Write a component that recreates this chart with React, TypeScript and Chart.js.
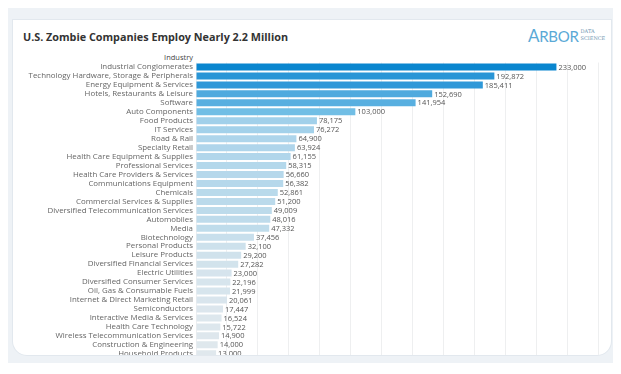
import React, { useEffect, useRef } from "react";
import { Chart, registerables } from "chart.js";

Chart.register(...registerables);

const industries: string[] = [
  "Industrial Conglomerates",
  "Technology Hardware, Storage & Peripherals",
  "Energy Equipment & Services",
  "Hotels, Restaurants & Leisure",
  "Software",
  "Auto Components",
  "Food Products",
  "IT Services",
  "Road & Rail",
  "Specialty Retail",
  "Health Care Equipment & Supplies",
  "Professional Services",
  "Health Care Providers & Services",
  "Communications Equipment",
  "Chemicals",
  "Commercial Services & Supplies",
  "Diversified Telecommunication Services",
  "Automobiles",
  "Media",
  "Biotechnology",
  "Personal Products",
  "Leisure Products",
  "Diversified Financial Services",
  "Electric Utilities",
  "Diversified Consumer Services",
  "Oil, Gas & Consumable Fuels",
  "Internet & Direct Marketing Retail",
  "Semiconductors",
  "Interactive Media & Services",
  "Health Care Technology",
  "Wireless Telecommunication Services",
  "Construction & Engineering",
  "Household Products",
];

const employees: number[] = [
  233000, 192872, 185411, 152690, 141954, 103000, 78175, 76272, 64900, 63924,
  61155, 58315, 56660, 56382, 52861, 51200, 49009, 48016, 47332, 37456, 32100,
  29200, 27282, 23000, 22196, 21999, 20061, 17447, 16524, 15722, 14900, 14000,
  13000,
];

const xTicks: number[] = [0, 20000, 40000, 60000, 80000, 100000, 120000, 140000, 160000, 180000, 200000, 220000, 240000, 260000];

// colour ramp stops (t in 0..1 -> rgb)
const rampStops: [number, number[]][] = [
  [0, [224, 232, 237]],
  [0.3, [160, 208, 234]],
  [0.42, [108, 188, 228]],
  [0.6, [86, 174, 224]],
  [0.8, [44, 150, 215]],
  [1, [10, 134, 207]],
];

function rampColor(v: number, min: number, max: number): string {
  const t = (v - min) / (max - min);
  for (let i = 1; i < rampStops.length; i++) {
    const [t1, c1] = rampStops[i];
    const [t0, c0] = rampStops[i - 1];
    if (t <= t1) {
      const f = (t - t0) / (t1 - t0);
      const c = c0.map((a, k) => Math.round(a + (c1[k] - a) * f));
      return `rgb(${c[0]},${c[1]},${c[2]})`;
    }
  }
  const c = rampStops[rampStops.length - 1][1];
  return `rgb(${c[0]},${c[1]},${c[2]})`;
}

const FONT = "'Open Sans', 'Noto Sans', sans-serif";

const valueLabels = {
  id: "valueLabels",
  afterDatasetsDraw(chart: any) {
    const ctx = chart.ctx;
    const meta = chart.getDatasetMeta(0);
    ctx.save();
    ctx.font = `7.5px ${FONT}`;
    ctx.fillStyle = "#555";
    ctx.textAlign = "left";
    ctx.textBaseline = "middle";
    meta.data.forEach((bar: any, i: number) => {
      const v = chart.data.datasets[0].data[i] as number;
      ctx.fillText(v.toLocaleString("en-US"), bar.x + 2, bar.y + 0.5);
    });
    ctx.restore();
  },
};

export default function App() {
  const ref = useRef<HTMLCanvasElement | null>(null);

  useEffect(() => {
    if (!ref.current) return;
    const min = Math.min(...employees);
    const max = Math.max(...employees);
    const chart = new Chart(ref.current, {
      type: "bar",
      data: {
        labels: industries,
        datasets: [
          {
            data: employees,
            backgroundColor: employees.map((v) => rampColor(v, min, max)),
            barPercentage: 0.78,
            categoryPercentage: 1,
          },
        ],
      },
      options: {
        indexAxis: "y",
        animation: false,
        responsive: false,
        maintainAspectRatio: false,
        layout: { padding: { top: 9.5, bottom: 0.5, right: 12.8, left: 0 } },
        plugins: {
          legend: { display: false },
          tooltip: { enabled: false },
        },
        scales: {
          x: {
            min: 0,
            max: 260000,
            afterBuildTicks: (scale: any) => {
              scale.ticks = xTicks.map((v) => ({ value: v }));
            },
            afterFit: (scale: any) => {
              scale.height = 0;
            },
            ticks: { display: false },
            border: { display: false },
            grid: { color: "#eeeff0", drawTicks: false, lineWidth: 1 },
          },
          y: {
            afterFit: (scale: any) => {
              scale.width = 183;
            },
            border: { display: false },
            grid: { display: false, drawTicks: false },
            ticks: {
              padding: 3,
              color: "#666",
              font: { family: FONT, size: 7.9 },
              autoSkip: false,
            },
          },
        },
      },
      plugins: [valueLabels],
    });
    return () => chart.destroy();
  }, []);

  return (
    <div
      style={{
        position: "relative",
        width: 610,
        height: 355,
        background: "#eef2f6",
      }}
    >
      <div
        style={{
          position: "absolute",
          left: 5,
          top: 12,
          width: 598,
          height: 335,
          background: "#fff",
          borderRadius: "0 0 14px 14px",
          boxShadow: "0 0 0 1px #e2e8ee",
          overflow: "hidden",
        }}
      >
        <div
          style={{
            position: "absolute",
            left: 10,
            top: 9,
            lineHeight: "16px",
            fontFamily: FONT,
            fontWeight: 700,
            fontSize: 10.8,
            color: "#333",
            whiteSpace: "nowrap",
          }}
        >
          U.S. Zombie Companies Employ Nearly 2.2 Million
        </div>
        <div
          style={{
            position: "absolute",
            left: 515,
            top: 8,
            display: "flex",
            alignItems: "flex-end",
            whiteSpace: "nowrap",
          }}
        >
          <span
            style={{
              fontFamily: "Lato, sans-serif",
              fontSize: 15,
              lineHeight: "16px",
              color: "#5aa9d6",
              letterSpacing: -0.3,
            }}
          >
            <span style={{ fontSize: 17 }}>A</span>RBOR
          </span>
          <span
            style={{
              display: "flex",
              flexDirection: "column",
              marginLeft: 2,
              marginBottom: 2,
              fontFamily: "'DejaVu Serif', serif",
              fontSize: 5,
              lineHeight: "7px",
              color: "#6f97b2",
            }}
          >
            <span>DATA</span>
            <span>SCIENCE</span>
          </span>
        </div>
        <div
          style={{
            position: "absolute",
            right: 598 - 180,
            top: 32,
            lineHeight: "10px",
            fontFamily: FONT,
            fontSize: 7.5,
            color: "#444",
            whiteSpace: "nowrap",
          }}
        >
          Industry
        </div>
        <canvas
          ref={ref}
          width={598}
          height={313}
          style={{ position: "absolute", left: 0, top: 33, width: 598, height: 313 }}
        />
      </div>
    </div>
  );
}
